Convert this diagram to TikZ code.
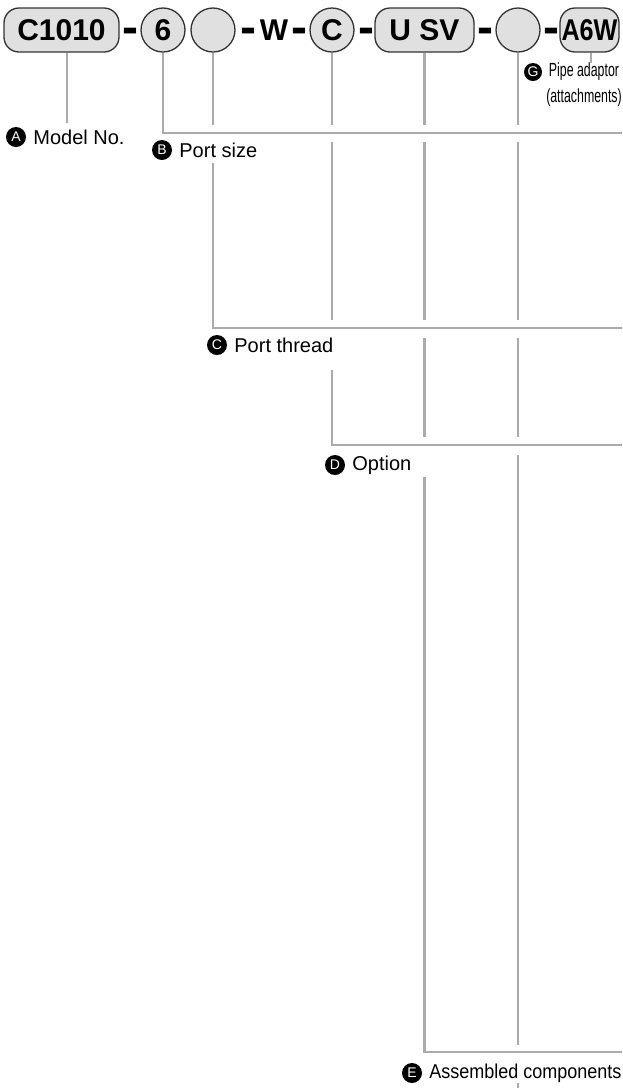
\documentclass[tikz,border=0pt]{standalone}
\usepackage{fontspec}
\setmainfont{Liberation Sans}
\newfontfamily\labelnarrow{Liberation Sans}[FakeStretch=0.9]
\newfontfamily\notenarrow{Liberation Sans}[FakeStretch=0.65]
\newfontfamily\codenarrow{Liberation Sans}[FakeStretch=0.84]
\usepackage{tikz}
\usetikzlibrary{positioning}
\definecolor{code-fill}{HTML}{E0E0E0}
\definecolor{code-edge}{HTML}{333333}
\definecolor{lead-gray}{HTML}{ABABAB}

\begin{document}
\begin{tikzpicture}[
    x=1pt, y=-1pt,
    seg/.style={draw=code-edge, line width=1.3pt, fill=code-fill, rounded corners=15pt,
                minimum height=44pt, inner sep=0pt, font=\bfseries\fontsize{30}{30}\selectfont},
    rnd/.style={seg, circle, minimum size=44pt},
    sep/.style={inner sep=0pt, font=\bfseries\fontsize{48}{48}\selectfont},
    lead/.style={draw=lead-gray, line width=2.2pt},
    badge/.style={circle, fill=black, text=white, inner sep=0pt, minimum size=20pt,
                  font=\fontsize{14}{14}\selectfont},
    lbl/.style={inner sep=1pt, font=\fontsize{20}{22}\selectfont},
]
    \useasboundingbox (0,0) rectangle (622,1088);

    % model code
    \node[seg, minimum width=115pt] (code)   at (61.5, 30) {C1010};
    \node[sep]                      (d1)     at (130, 36) {-};
    \node[rnd]                      (six)    at (163, 30) {6};
    \node[rnd]                      (blank1) at (213, 30) {};
    \node[sep]                      (d2)     at (248, 36) {-};
    \node[inner sep=0pt, font=\bfseries\fontsize{30}{30}\selectfont] (w) at (274, 30) {W};
    \node[sep]                      (d3)     at (299, 36) {-};
    \node[rnd]                      (cC)     at (332, 30) {C};
    \node[sep]                      (d4)     at (366, 36) {-};
    \node[seg, minimum width=99pt]  (usv)    at (424.5, 30) {U SV};
    \node[sep]                      (d5)     at (485, 36) {-};
    \node[rnd]                      (blank2) at (518, 30) {};
    \node[sep]                      (d6)     at (551, 36) {-};
    \node[seg, minimum width=59pt, font=\codenarrow\bfseries\fontsize{30}{30}\selectfont]
                                    (a6w)    at (589.5, 30) {A6W};

    % rows
    \coordinate (rowB) at (0, 133);   \coordinate (edgeB) at (622, 133);
    \coordinate (rowC) at (0, 328);   \coordinate (edgeC) at (622, 328);
    \coordinate (rowD) at (0, 445);   \coordinate (edgeD) at (622, 445);
    \coordinate (rowE) at (0, 1052);  \coordinate (edgeE) at (622, 1052);
    \coordinate (floor) at (0, 1088);

    % labels
    \node[badge] (bA) at (16, 137) {A};
    \node[lbl, right=6pt of bA] (tA) {Model No.};
    \node[badge] (bB) at (162, 150) {B};
    \node[lbl, right=6pt of bB] (tB) {Port size};
    \node[badge] (bC) at (217, 345) {C};
    \node[lbl, right=6pt of bC] (tC) {Port thread};
    \node[badge] (bD) at (335, 465) {D};
    \node[lbl, right=6pt of bD] (tD) {Option};
    \node[badge] (bE) at (412, 1073) {E};
    \node[lbl, right=6pt of bE, font=\labelnarrow\fontsize{20}{22}\selectfont] (tE) {Assembled components};
    \node[badge, minimum size=18pt] (bG) at (533, 72) {G};
    \node[inner sep=0pt, align=center, font=\notenarrow\fontsize{19}{26}\selectfont]
         (tG) at (584, 85) {Pipe adaptor\\(attachments)};

    % leads
    \draw[lead, shorten >=5pt] ([xshift=5.5pt]code.south) -- ([xshift=5.5pt]code.south |- tA.north);
    \draw[lead] (six.south) |- (edgeB);
    \draw[lead, shorten >=8pt] (blank1.south) -- (blank1.south |- rowB);
    \draw[lead, shorten <=30pt] (blank1.south |- rowB) |- (edgeC);
    \draw[lead, shorten >=8pt] (cC.south) -- (cC.south |- rowB);
    \draw[lead, shorten <=9pt, shorten >=8pt] (cC.south |- rowB) -- (cC.south |- rowC);
    \draw[lead, shorten <=42pt] (cC.south |- rowC) |- (edgeD);
    \draw[lead, shorten >=8pt] (usv.south) -- (usv.south |- rowB);
    \draw[lead, shorten <=9pt, shorten >=8pt] (usv.south |- rowB) -- (usv.south |- rowC);
    \draw[lead, shorten <=10pt, shorten >=8pt] (usv.south |- rowC) -- (usv.south |- rowD);
    \draw[lead, shorten <=32pt] (usv.south |- rowD) |- (edgeE);
    \draw[lead, shorten >=8pt] (blank2.south) -- (blank2.south |- rowB);
    \draw[lead, shorten <=9pt, shorten >=8pt] (blank2.south |- rowB) -- (blank2.south |- rowC);
    \draw[lead, shorten <=10pt, shorten >=8pt] (blank2.south |- rowC) -- (blank2.south |- rowD);
    \draw[lead, shorten <=10pt, shorten >=7pt] (blank2.south |- rowD) -- (blank2.south |- rowE);
    \draw[lead, shorten <=31pt] (blank2.south |- rowE) -- (blank2.south |- floor);
    \draw[lead, line width=1.6pt] ([xshift=1.5pt]a6w.south) -- ([xshift=1.5pt]a6w.south |- tG.north);
\end{tikzpicture}
\end{document}
